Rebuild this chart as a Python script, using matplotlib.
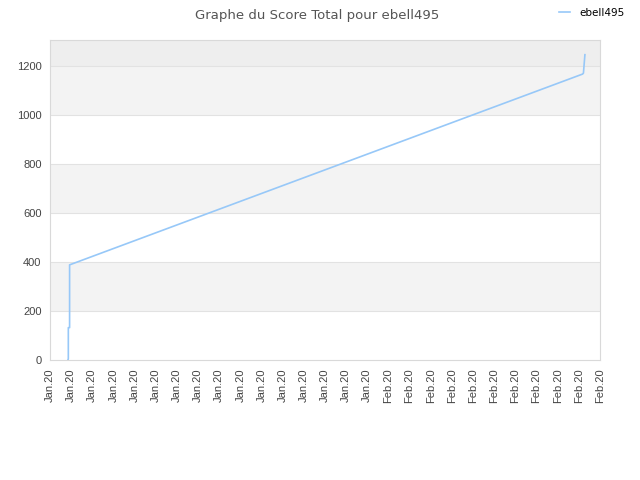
import matplotlib
matplotlib.use('Agg')
import matplotlib.pyplot as plt

# x positions are measured in tick steps from the first tick label
tick_labels = ['Jan.20'] * 16 + ['Feb.20'] * 11
days = [0.85, 0.87, 0.87, 0.93, 0.93, 25.18, 25.22, 25.29]
score = [0, 5, 132, 132, 388, 1166, 1170, 1245]
y_max = 1305
band_edges = [0, 200, 400, 600, 800, 1000, 1200, y_max]

fig = plt.figure(figsize=(6.4, 4.8), dpi=100)
ax = fig.add_axes([0.078, 0.25, 0.8594, 0.6667])

# alternating background bands
for i in range(len(band_edges) - 1):
    lo, hi = band_edges[i], band_edges[i + 1]
    if i == len(band_edges) - 2:
        color = '#eeeeee'
    elif i % 2 == 1:
        color = '#f3f3f3'
    else:
        color = '#ffffff'
    ax.axhspan(lo, hi, color=color, zorder=0, lw=0)

for yv in band_edges[1:-1]:
    ax.axhline(yv, color='#e2e2e2', lw=0.8, zorder=1)

ax.plot(days, score, color='#97c8f8', lw=1.2, zorder=3, label='ebell495')

ax.set_xlim(0, len(tick_labels) - 1)
ax.set_ylim(0, y_max)
ax.set_xticks(range(len(tick_labels)))
ax.set_xticklabels(tick_labels, rotation=90, fontsize=8, color='#444444',
                   family='Liberation Sans')
ax.set_yticks(band_edges[:-1])
ax.tick_params(axis='y', labelsize=8, labelcolor='#444444', length=0, pad=6)
ax.tick_params(axis='x', length=0, pad=6)
for lab in ax.get_yticklabels():
    lab.set_family('Liberation Sans')
for sp in ax.spines.values():
    sp.set_color('#d9d9d9')

fig.text(0.495, 0.968, 'Graphe du Score Total pour ebell495', ha='center', va='center',
         fontsize=9.5, color='#555555')
fig.legend(loc='center', bbox_to_anchor=(0.925, 0.973), frameon=False, fontsize=7.5,
           handlelength=1.0, handletextpad=0.9)

fig.savefig('out.png', dpi=100)
